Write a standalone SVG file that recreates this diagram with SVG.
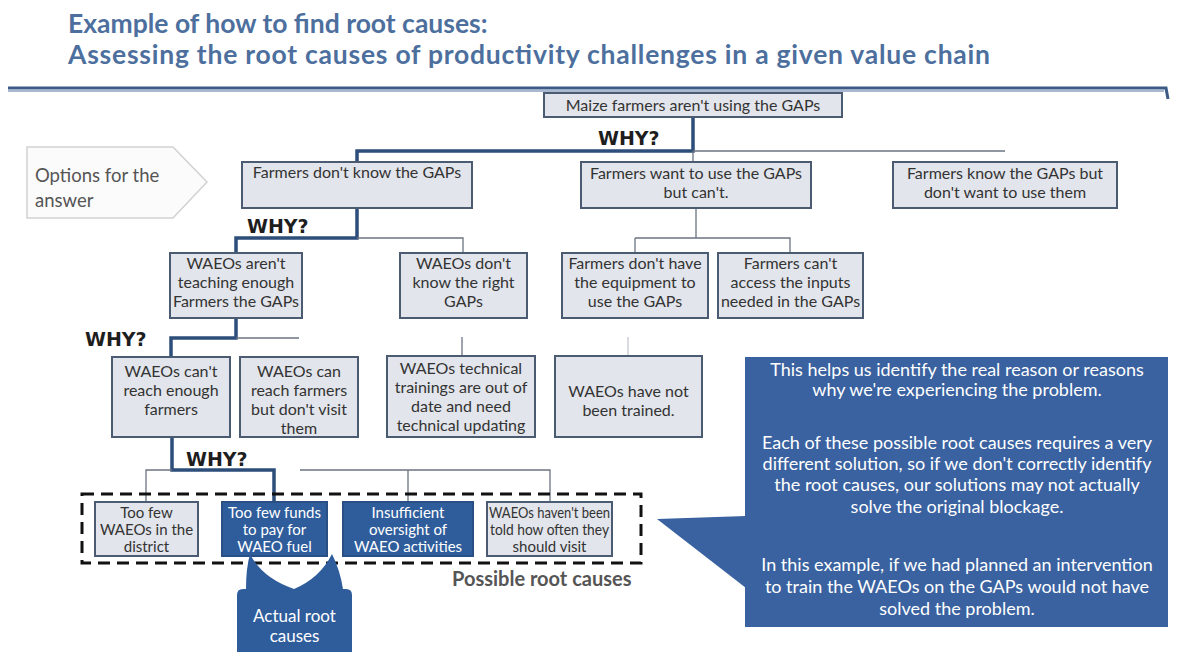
<svg xmlns="http://www.w3.org/2000/svg" width="1181" height="656" viewBox="0 0 1181 656">
<style>
.title{font-family:Lato,"Open Sans","Liberation Sans",sans-serif;font-weight:700;font-size:26.5px;fill:#4d6f9e}
.box{fill:#e2e5eb;stroke:#4b5b72;stroke-width:2}
.dbox{fill:#2f5d9c;stroke:#294f85;stroke-width:2}
.t{font-family:Lato,"Open Sans","Liberation Sans",sans-serif;font-size:16px;fill:#333;text-anchor:middle}
.tb{font-family:Lato,"Open Sans","Liberation Sans",sans-serif;font-size:15px;fill:#333;text-anchor:middle}
.tw{font-family:Lato,"Open Sans","Liberation Sans",sans-serif;font-size:15px;fill:#fff;text-anchor:middle}
.why{font-family:"DejaVu Sans",Verdana,sans-serif;font-weight:700;font-size:19px;fill:#1e1e1e}
.hi{stroke:#2d4d7a;stroke-width:3.5;fill:none}
.lo{stroke:#6b7481;stroke-width:1.3;fill:none}
.faint{stroke:#c4c8ce;stroke-width:1.3;fill:none}
.ct{font-family:Lato,"Open Sans","Liberation Sans",sans-serif;font-size:18px;fill:#fff;text-anchor:middle}
</style>
<rect width="1181" height="656" fill="#ffffff"/>
<g id="title">
<text class="title" x="68" y="33">Example of how to find root causes:</text>
<text class="title" x="68" y="64" textLength="922">Assessing the root causes of productivity challenges in a given value chain</text>
<path d="M8,88 L1166,88 L1168,99" stroke="#3b5a86" stroke-width="3" fill="none"/>
<line x1="8" y1="91" x2="1164" y2="91" stroke="#a7b8d0" stroke-width="2"/>
</g>
<g id="connectors">
<path class="hi" d="M693,117 V151 H357 V162"/>
<path class="lo" d="M693,151 V162 M693,151 H1005"/>
<path class="hi" d="M357,208 V238 H236 V253"/>
<path class="lo" d="M357,238 H463 V253"/>
<path class="lo" d="M696,208 V238 M635,238 H790 V253 M635,238 V278"/>
<path class="hi" d="M236,318 V338 H171 V357"/>
<path class="lo" d="M236,338 H299"/>
<path class="lo" d="M462,337 V356"/>
<path class="faint" d="M628,337 V356"/>
<path class="hi" d="M172,437 V470 H274 V502"/>
<path class="lo" d="M172,470 H146 V502 M300,470 H550 V502 M408,470 V502"/>
</g>
<g id="options">
<polygon points="27,147 173,147 207,182 173,218 27,218" fill="#fbfbfb" stroke="#d2d2d2" stroke-width="1.5"/>
<text x="35" y="182" font-family="Lato,'Open Sans','Liberation Sans',sans-serif" font-size="18.5" fill="#555">Options for the</text>
<text x="35" y="207" font-family="Lato,'Open Sans','Liberation Sans',sans-serif" font-size="18.5" fill="#555">answer</text>
</g>
<g id="n-root">
<rect class="box" x="544" y="93" width="298" height="24"/>
<text class="t" x="693" y="111">Maize farmers aren't using the GAPs</text>
</g>
<text class="why" x="598" y="145">WHY?</text>
<g id="n-a">
<rect class="box" x="242" y="162" width="230" height="46"/>
<text class="t" x="357" y="178">Farmers don't know the GAPs</text>
</g>
<g id="n-b">
<rect class="box" x="581" y="162" width="230" height="46"/>
<text class="t" x="696" y="179">Farmers want to use the GAPs</text>
<text class="t" x="696" y="198">but can't.</text>
</g>
<g id="n-c">
<rect class="box" x="893" y="162" width="224" height="46"/>
<text class="t" x="1005" y="179">Farmers know the GAPs but</text>
<text class="t" x="1005" y="198">don't want to use them</text>
</g>
<text class="why" x="247" y="233">WHY?</text>
<g id="n-d">
<rect class="box" x="170" y="253" width="132" height="65"/>
<text class="t" x="236" y="269">WAEOs aren't</text>
<text class="t" x="236" y="288">teaching enough</text>
<text class="t" x="236" y="307">Farmers the GAPs</text>
</g>
<g id="n-e">
<rect class="box" x="400" y="253" width="127" height="65"/>
<text class="t" x="463.5" y="269">WAEOs don't</text>
<text class="t" x="463.5" y="288">know the right</text>
<text class="t" x="463.5" y="307">GAPs</text>
</g>
<g id="n-f">
<rect class="box" x="562" y="253" width="146" height="65"/>
<text class="t" x="635" y="269">Farmers don't have</text>
<text class="t" x="635" y="288">the equipment to</text>
<text class="t" x="635" y="307">use the GAPs</text>
</g>
<g id="n-g">
<rect class="box" x="718" y="253" width="145" height="65"/>
<text class="t" x="790.5" y="269">Farmers can't</text>
<text class="t" x="790.5" y="288">access the inputs</text>
<text class="t" x="790.5" y="307">needed in the GAPs</text>
</g>
<text class="why" x="85" y="346">WHY?</text>
<g id="n-h">
<rect class="box" x="112" y="357" width="118" height="80"/>
<text class="t" x="171" y="377">WAEOs can't</text>
<text class="t" x="171" y="396">reach enough</text>
<text class="t" x="171" y="415">farmers</text>
</g>
<g id="n-i">
<rect class="box" x="240" y="357" width="118" height="80"/>
<text class="t" x="299" y="377">WAEOs can</text>
<text class="t" x="299" y="396">reach farmers</text>
<text class="t" x="299" y="415">but don't visit</text>
<text class="t" x="299" y="434">them</text>
</g>
<g id="n-j">
<rect class="box" x="387" y="356" width="148" height="81"/>
<text class="t" x="461" y="374">WAEOs technical</text>
<text class="t" x="461" y="393">trainings are out of</text>
<text class="t" x="461" y="412">date and need</text>
<text class="t" x="461" y="431">technical updating</text>
</g>
<g id="n-k">
<rect class="box" x="555" y="356" width="147" height="81"/>
<text class="t" x="628.5" y="397">WAEOs have not</text>
<text class="t" x="628.5" y="416">been trained.</text>
</g>
<text class="why" x="186" y="466">WHY?</text>
<g id="root-causes">
<rect x="82" y="494" width="559" height="69" fill="none" stroke="#111" stroke-width="3" stroke-dasharray="12 7"/>
<text x="452" y="586" font-family="Lato,'Open Sans','Liberation Sans',sans-serif" font-weight="700" font-size="20" fill="#555">Possible root causes</text>
</g>
<g id="n-l1">
<rect class="box" x="95" y="502" width="103" height="54"/>
<text class="tb" x="146.5" y="518">Too few</text>
<text class="tb" x="146.5" y="535">WAEOs in the</text>
<text class="tb" x="146.5" y="552">district</text>
</g>
<g id="n-l2">
<rect class="dbox" x="222" y="502" width="105" height="54"/>
<text class="tw" x="274.5" y="518">Too few funds</text>
<text class="tw" x="274.5" y="535">to pay for</text>
<text class="tw" x="274.5" y="552">WAEO fuel</text>
</g>
<g id="n-l3">
<rect class="dbox" x="343" y="502" width="130" height="54"/>
<text class="tw" x="408" y="518">Insufficient</text>
<text class="tw" x="408" y="535">oversight of</text>
<text class="tw" x="408" y="552">WAEO activities</text>
</g>
<g id="n-l4">
<rect class="box" x="487" y="502" width="125" height="54"/>
<text class="tb" x="549.5" y="518" textLength="121" lengthAdjust="spacingAndGlyphs">WAEOs haven't been</text>
<text class="tb" x="549.5" y="535" textLength="119" lengthAdjust="spacingAndGlyphs">told how often they</text>
<text class="tb" x="549.5" y="552">should visit</text>
</g>
<g id="actual-callout">
<path d="M237,652 V595 Q237,589 243,589 L246,589 Q246,568 250,554 Q262,578 294,589 Q320,578 332,554 Q340,570 343,589 L346,589 Q352,589 352,595 V652 Z" fill="#2f5d9c"/>
<text class="tw" x="294.5" y="622" style="font-size:17px">Actual root</text>
<text class="tw" x="294.5" y="642" style="font-size:17px">causes</text>
</g>
<g id="explain-callout">
<polygon points="657,519 746,516 746,588" fill="#3a62a0"/>
<rect x="745" y="357" width="423" height="270" fill="#3a62a0"/>
<text class="ct" x="957" y="376">This helps us identify the real reason or reasons</text>
<text class="ct" x="957" y="396">why we're experiencing the problem.</text>
<text class="ct" x="957" y="449">Each of these possible root causes requires a very</text>
<text class="ct" x="957" y="470">different solution, so if we don't correctly identify</text>
<text class="ct" x="957" y="491">the root causes, our solutions may not actually</text>
<text class="ct" x="957" y="513">solve the original blockage.</text>
<text class="ct" x="957" y="571">In this example, if we had planned an intervention</text>
<text class="ct" x="957" y="593">to train the WAEOs on the GAPs would not have</text>
<text class="ct" x="957" y="615">solved the problem.</text>
</g>
</svg>
